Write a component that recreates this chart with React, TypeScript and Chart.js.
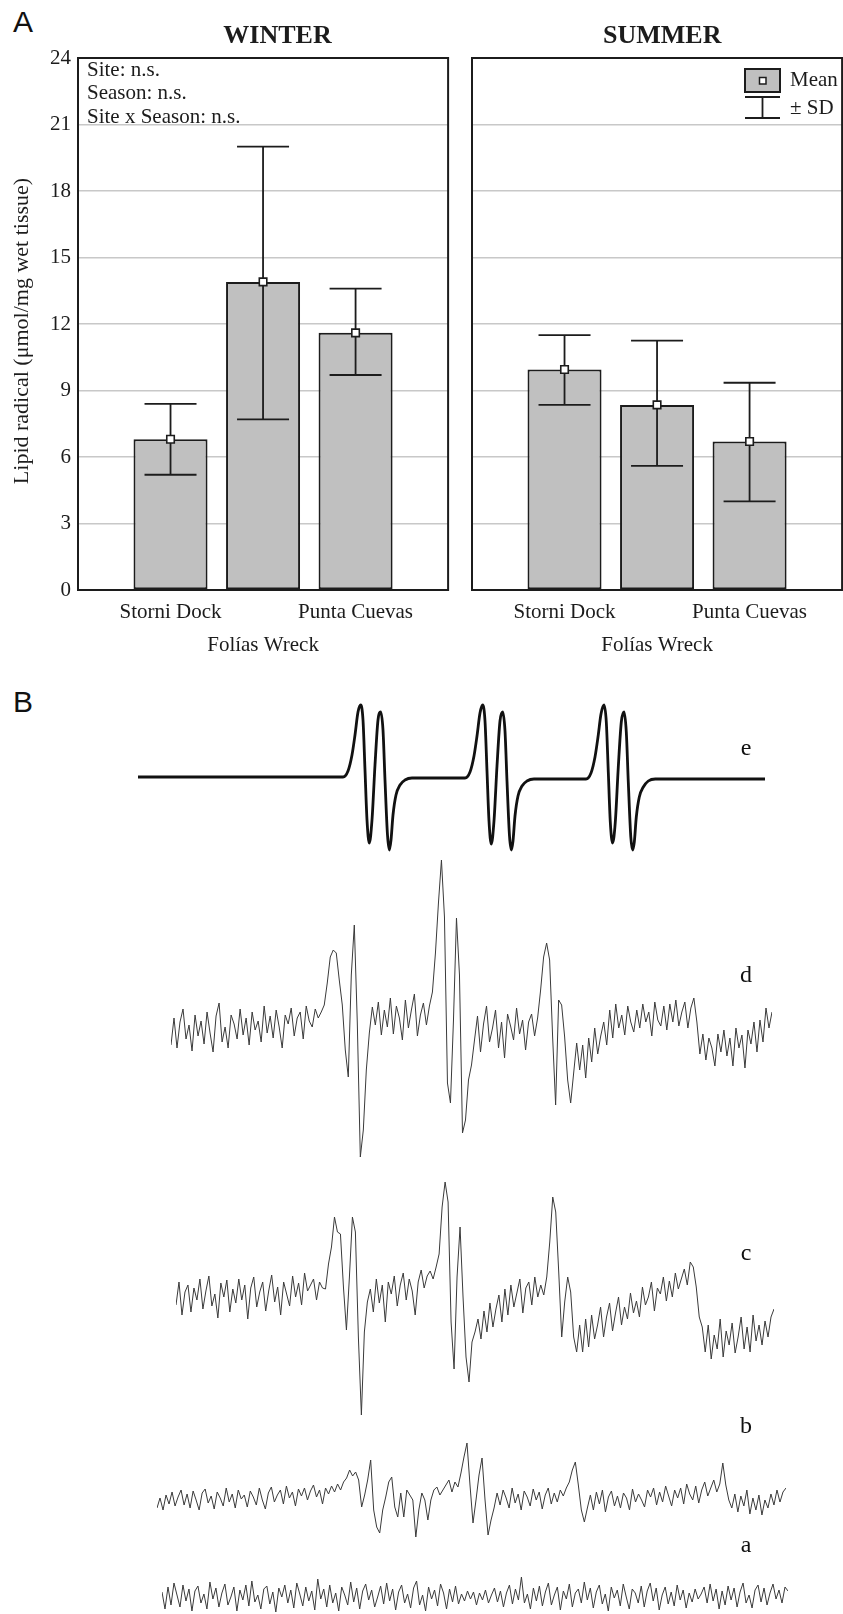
import React, { useEffect, useRef } from 'react';
import { Chart, registerables } from 'chart.js';

Chart.register(...registerables);

// ---------------- Panel A data ----------------
const sites = ['Storni Dock', 'Folías Wreck', 'Punta Cuevas'];
const winterMean = [6.8, 13.9, 11.6];
const winterSdHigh = [8.4, 20.0, 13.6];
const winterSdLow = [5.2, 7.7, 9.7];
const summerMean = [9.95, 8.35, 6.7];
const summerSdHigh = [11.5, 11.25, 9.35];
const summerSdLow = [8.35, 5.6, 4.0];
const yMin = 0;
const yMax = 24;
const yStep = 3;
const statsText = ['Site: n.s.', 'Season: n.s.', 'Site x Season: n.s.'];
const yTitle = 'Lipid radical (μmol/mg wet tissue)';
const legendMean = 'Mean';
const legendSd = '± SD';

// ---------------- Panel B data (EPR spectra, arbitrary amplitude units) ----------------
const eField = [0, 100, 205, 210, 214, 217, 220, 222.7, 225, 227, 229, 231.3, 234, 237, 240, 242.7, 245, 247, 249.5, 251.3, 253, 255, 258, 262, 267, 274, 300,
  327, 332, 336, 339, 342, 344.7, 347, 349, 351, 353.3, 356, 359, 362, 364.7, 367, 369, 371.5, 373.3, 375, 377, 380, 384, 389, 396, 420,
  448, 453, 457, 460, 463, 466, 468.3, 470.3, 472.3, 474.6, 477.3, 480.3, 483.3, 486, 488.3, 490.3, 492.8, 494.6, 496.3, 498.3, 501.3, 505.3, 510.3, 517.3, 560, 627];
const eSignal = [0, 0, 0, 6, 22, 42, 65, 72, 57, 7, -43, -66, -43, 12, 57, 65, 47, -3, -58, -73, -63, -38, -18, -8, -3, -1, -1,
  -1, 5, 21, 41, 64, 72, 56, 6, -44, -67, -44, 11, 56, 65, 46, -4, -59, -73, -64, -39, -19, -9, -4, -2, -2,
  -2, 4, 20, 40, 63, 72, 55, 5, -45, -66, -45, 10, 55, 65, 45, -5, -60, -73, -65, -40, -20, -10, -4, -2, -2, -2];

const dSignal = [
  -15, 12, -18, 8, 21, -9, 5, -21, 15, -6,
  9, -14, 18, -3, -22, 14, 27, -12, 3, -18,
  15, 6, -9, 21, -5, 12, -15, 18, 0, 9,
  -12, 24, -3, 14, -8, 20, 3, -18, 15, 6,
  22, -6, 12, 18, -9, 24, 9, 3, 21, 12,
  18, 25,
  47, 73, 80, 77, 50, 25, -20, -47, 55, 105, 7, -127, -100, -40, -3, 23,
  5, 28, -5, 20, 3, 32, -4, 24, 12, -10,
  30, 2, 20, 36, -6, 15, 27, 5, 24, 38,
  77, 127, 170, 113, -53, -73, 10, 112, 55, -103, -90, -50, -35, -10,
  14, -22, 6, 24, -12, 2, 20, -18, 8, -28,
  16, 4, -10, 22, -4, 10, -20, 8, 16, -6,
  12,
  40, 73, 87, 70, -7, -75, 30, 25, -7, -50, -73, -43, -13,
  -40, -15, -48, -8, -32, 2, -24, -6, 8, -15,
  20, -8, 26, 2, 15, -5, 24, 8, -2, 20,
  2, 26, 8, 18, -6, 28, 10, 4, 24, 0,
  26, 8, 30, 4, 18, 28, 2, 22, 32, 8,
  -24, -4, -30, -8, -18, -36, -4, -22, 0, -26,
  -8, -36, 2, -18, -5, -38, 0, -14, 8, -22,
  10, -12, 22, 2, 18,
];

const cSignal = [
  -8, 15, -18, 5, 12, -15, 9, -3, 18, -12,
  6, 21, -9, 3, -21, 14, 0, 17, -15, 8,
  -6, 18, -3, 12, -22, 9, 20, -10, 5, 15,
  -14, 6, 22, -5, 10, -18, 15, 3, -9, 21,
  0, 14, -8, 24, 6, 12, 18, -3, 15, 9,
  8,
  33, 50, 80, 65, 63, 10, -33, 20, 80, 65, -40, -118, -35, -5,
  8, -15, 18, -6, 12, -25, 15, 3, 21, -9,
  12, 24, -3, 18, 6, -18, 15, 27, 9, 21,
  26, 18,
  30, 43, 90, 115, 95, -25, -72, 20, 70, 0, -60, -85, -45, -35,
  -22, -42, -14, -35, -6, -30, -12, 2, -25, 8,
  -18, 12, -10, 4, 18, -16, 9, 15, -8, 20,
  0, 12, 2,
  20, 55, 100, 85, 25, -40, -5, 20, 5, -40, -55,
  -28, -55, -22, -50, -18, -42, -28, -10, -40, -20,
  -6, -34, -16, 0, -28, -10, -22, 4, -16, -4,
  -20, 10, -8, 0, 15, -14, 9, 3, 20, -4,
  16, 0, 24, 8, 18, 28, 12,
  35, 30, 10, -20,
  -30, -55, -28, -62, -38, -52, -22, -60, -34, -48,
  -26, -56, -40, -20, -52, -30, -55, -18, -44, -28,
  -48, -24, -40, -20, -12,
];

const bSignal = [
  -8, 2, -10, 5, -4, 8, -6, 3, 10, -5,
  6, -8, 9, 0, -10, 7, 11, -3, 4, -9,
  8, 2, -6, 12, -2, 6, -8, 10, 1, 5,
  -7, 9, 3, -5, 12, 0, -9, 7, 13, -2,
  5, 10, -4, 14, 2, 8, -6, 11, 4, 12,
  0, 9, 15, 3, 10, -4, 12, 6, 14, 8,
  16, 10, 18,
  22, 30, 24, 28, 20, -7, 5, 20, 40, -10,
  -27, -33, -10, 3, 18, 23, -7, -17, 7, -17,
  10, 5, 0, -37, -10, 7, 0, -20, 0, 10,
  13, 5, 10, 15, 20, 8, 18, 13, 27, 43,
  57, 15, -23, 0, 25, 42, 0, -35, -20, -8, 7,
  -5, 10, 2, -8, 12, -3, 6, -10, 9, 3,
  -6, 11, 0, 8, -9, 5, 12, -4, 7, -2,
  10, 4, 12, 18,
  30, 38, 15, -10, -22, -8,
  5, -10, 8, -4, 10, -12, 3, 9, -6, 4,
  -8, 7, 2, -10, 11, -2, 6, 0, -7, 10,
  3, 12, -5, 8, -2, 14, 4, -6, 10, 2,
  12, -4, 16, 6, 0, 14, -3, 10, 18, 4,
  12, 20, 8, 16,
  37, 15, 0,
  -8, 6, -12, 4, -6, 10, -14, 2, -10, 5,
  -15, 0, -8, 6, -5, 10, -2, 8, 12,
];

const aSignal = [
  5, -12, 10, -8, 14, 2, -10, 12, -4, 8,
  -14, 6, 11, -6, 3, -12, 15, -2, 9, -10,
  4, 13, -8, 0, 10, -14, 7, -3, 12, -9,
  16, -5, 2, -12, 8, 11, -7, 5, -15, 9,
  0, 12, -6, 7, -11, 14, 3, -9, 10, -4,
  6, -13, 18, -2, 8, -10, 12, -6, 4, -14,
  10, 2, -8, 15, -5, 9, -12, 6, 13, -3,
  7, -10, 0, 11, -7, 14, -4, 8, -13, 5,
  12, -6, 3, -11, 9, 16, -8, 2, -14, 10,
  -2, 7, -9, 13, 4, -12, 8, -5, 11, -7,
  3, -4, 6, -2, 5, -8, 4, -3, 7, -6,
  2, 9, -5, 6, -10, 4, 12, -7, 8, -3,
  20, -6, 3, -12, 9, -4, 11, -9, 5, 14,
  -8, 2, 10, -13, 6, -2, 13, -10, 4, 8,
  -6, 15, -3, 9, -11, 5, 12, -7, 3, -14,
  10, -1, 7, -9, 13, 0, -12, 8, 4, -6,
  11, -10, 6, 14, -4, 9, -13, 2, 10, -7,
  5, -9, 12, -3, 7, -11, 4, -5, 8, -2,
  3, 10, -6, 13, -4, 8, -12, 6, -8, 11,
  -3, 9, -10, 5, 14, -6, 2, -11, 7, 12,
  -5, 9, -8, 4, 13, -2, 7, -6, 10, 6,
];
const traceLabels = ['e', 'd', 'c', 'b', 'a'];

// ---------------- styling ----------------
const SERIF = '"Liberation Serif", "Times New Roman", serif';
const SANS = '"Liberation Sans", Arial, sans-serif';
const INK = '#1c1c1c';

const errorBarPlugin = {
  id: 'errorBars',
  afterDatasetDraw(chart: any, args: any, opts: any) {
    if (args.index !== 0) return;
    const { ctx, scales } = chart;
    const x = scales.x;
    const y = scales.y;
    ctx.save();
    ctx.strokeStyle = INK;
    ctx.lineWidth = 1.8;
    const high: number[] = opts.high;
    const low: number[] = opts.low;
    for (let k = 0; k < high.length; k++) {
      const px = x.getPixelForValue(k + 1);
      const yh = y.getPixelForValue(high[k]);
      const yl = y.getPixelForValue(low[k]);
      const cap = 26;
      ctx.beginPath();
      ctx.moveTo(px, yh);
      ctx.lineTo(px, yl);
      ctx.moveTo(px - cap, yh);
      ctx.lineTo(px + cap, yh);
      ctx.moveTo(px - cap, yl);
      ctx.lineTo(px + cap, yl);
      ctx.stroke();
    }
    ctx.restore();
  },
};

const panelPlugin = {
  id: 'panelDeco',
  afterDraw(chart: any, _args: any, o: any) {
    const { ctx, chartArea: a } = chart;
    ctx.save();
    ctx.strokeStyle = INK;
    ctx.lineWidth = 2;
    ctx.strokeRect(a.left, a.top, a.right - a.left, a.bottom - a.top);
    ctx.fillStyle = INK;
    ctx.textBaseline = 'middle';
    ctx.textAlign = 'center';
    ctx.font = `bold 26px ${SERIF}`;
    ctx.fillText(o.title, o.titleX, 36.7);
    if (o.yTitle) {
      ctx.save();
      ctx.font = `22px ${SERIF}`;
      ctx.translate(22, 331);
      ctx.rotate(-Math.PI / 2);
      ctx.fillText(o.yTitle, 0, 0);
      ctx.restore();
    }
    ctx.font = `21px ${SERIF}`;
    ctx.textAlign = 'left';
    if (o.stats) {
      const ys = [70, 93.7, 117.3];
      o.stats.forEach((s: string, i: number) => ctx.fillText(s, 87, ys[i]));
    }
    if (o.legend) {
      const lx = o.legendX;
      const ly = o.legendY;
      ctx.fillStyle = '#c0c0c0';
      ctx.fillRect(lx, ly, 35, 23);
      ctx.lineWidth = 2;
      ctx.strokeRect(lx, ly, 35, 23);
      ctx.fillStyle = '#ffffff';
      ctx.lineWidth = 1.5;
      ctx.fillRect(lx + 14.5, ly + 8.5, 6.5, 6.5);
      ctx.strokeRect(lx + 14.5, ly + 8.5, 6.5, 6.5);
      ctx.lineWidth = 1.8;
      ctx.beginPath();
      ctx.moveTo(lx, ly + 28);
      ctx.lineTo(lx + 35, ly + 28);
      ctx.moveTo(lx + 17.5, ly + 28);
      ctx.lineTo(lx + 17.5, ly + 49);
      ctx.moveTo(lx, ly + 49);
      ctx.lineTo(lx + 35, ly + 49);
      ctx.stroke();
      ctx.fillStyle = INK;
      ctx.fillText(legendMean, lx + 45, ly + 11.5);
      ctx.fillText(legendSd, lx + 45, ly + 39.5);
    }
    ctx.restore();
  },
};

function BarPanel(props: any) {
  const { left, title, titleX, means, high, low, showAxis, stats, legend } = props;
  const ref = useRef<HTMLCanvasElement>(null);
  useEffect(() => {
    const labels: any[] = ['', [sites[0]], ['', sites[1]], [sites[2]], ''];
    const vals = [null, ...means, null];
    const chart = new Chart(ref.current as HTMLCanvasElement, {
      type: 'bar',
      data: {
        labels,
        datasets: [
          {
            type: 'bar',
            data: vals,
            backgroundColor: '#c0c0c0',
            borderColor: INK,
            borderWidth: 2,
            borderSkipped: false,
            categoryPercentage: 1,
            barPercentage: 0.8,
            order: 2,
          },
          {
            type: 'line',
            data: vals,
            showLine: false,
            pointStyle: 'rect',
            pointRadius: 5.3,
            pointBackgroundColor: '#ffffff',
            pointBorderColor: INK,
            pointBorderWidth: 1.6,
            order: 1,
          },
        ],
      },
      options: {
        animation: false,
        responsive: false,
        events: [],
        layout: { padding: { top: 58, right: 4, left: 0, bottom: 0 } },
        plugins: {
          legend: { display: false },
          tooltip: { enabled: false },
          errorBars: { high, low },
          panelDeco: {
            title,
            titleX,
            stats,
            yTitle: showAxis ? yTitle : null,
            legend: !!legend,
            legendX: 351,
            legendY: 69,
          },
        },
        scales: {
          x: {
            type: 'category',
            offset: false,
            grid: { display: false, drawTicks: false },
            border: { display: false },
            ticks: {
              autoSkip: false,
              maxRotation: 0,
              minRotation: 0,
              padding: 5.5,
              color: INK,
              font: { family: SERIF, size: 21, lineHeight: 33 / 21 },
            },
            afterFit: (s: any) => { s.height = 80; },
          },
          y: {
            min: yMin,
            max: yMax,
            grid: {
              drawTicks: false,
              lineWidth: 1.6,
              color: (c: any) => (c.tick && (c.tick.value === yMin || c.tick.value === yMax) ? 'rgba(0,0,0,0)' : '#c8c8c8'),
            },
            border: { display: false },
            ticks: {
              display: showAxis,
              stepSize: yStep,
              padding: 7,
              color: INK,
              font: { family: SERIF, size: 21 },
            },
            afterFit: (s: any) => { s.width = 78; },
          },
        },
      },
      plugins: [errorBarPlugin, panelPlugin],
    } as any);
    return () => chart.destroy();
  }, []);
  return (
    <canvas
      ref={ref}
      width={455}
      height={670}
      style={{ position: 'absolute', left, top: 0, width: 455, height: 670 }}
    />
  );
}

function Trace(props: any) {
  const { xs, ys, left, top, width, min, max, lineWidth, color, smooth } = props;
  const ref = useRef<HTMLCanvasElement>(null);
  const height = max - min;
  useEffect(() => {
    const px: number[] = xs || ys.map((_: number, i: number) => i);
    const chart = new Chart(ref.current as HTMLCanvasElement, {
      type: 'line',
      data: {
        datasets: [
          {
            data: ys.map((y: number, i: number) => ({ x: px[i], y })),
            borderColor: color,
            borderWidth: lineWidth,
            pointRadius: 0,
            tension: 0,
            cubicInterpolationMode: smooth ? 'monotone' : 'default',
            borderJoinStyle: 'round',
            borderCapStyle: 'butt',
            fill: false,
          },
        ],
      },
      options: {
        animation: false,
        responsive: false,
        events: [],
        layout: { padding: 0 },
        plugins: { legend: { display: false }, tooltip: { enabled: false } },
        scales: {
          x: { type: 'linear', display: false, min: px[0], max: px[px.length - 1] },
          y: { type: 'linear', display: false, min, max },
        },
      },
    } as any);
    return () => chart.destroy();
  }, []);
  return (
    <canvas
      ref={ref}
      width={width}
      height={height}
      style={{ position: 'absolute', left, top, width, height }}
    />
  );
}

function Txt(props: any) {
  const { x, baseline, size, sans, center, bold, children } = props;
  const asc = sans ? 0.8465 : 0.8375;
  return (
    <div
      style={{
        position: 'absolute',
        left: x,
        top: baseline - asc * size,
        fontSize: size,
        lineHeight: `${size}px`,
        fontFamily: sans ? SANS : SERIF,
        fontWeight: bold ? 'bold' : 'normal',
        color: '#111',
        whiteSpace: 'nowrap',
        transform: center ? 'translateX(-50%)' : undefined,
      }}
    >
      {children}
    </div>
  );
}

export default function App() {
  const letterPos = [755, 982, 1260, 1433, 1552];
  return (
    <div
      style={{
        position: 'absolute',
        left: 0,
        top: 0,
        width: 843,
        height: 1614,
        overflow: 'hidden',
        background: '#ffffff',
      }}
    >
      <Txt x={13} baseline={32} size={30} sans>A</Txt>
      <BarPanel
        left={0}
        title="WINTER"
        titleX={277.5}
        means={winterMean}
        high={winterSdHigh}
        low={winterSdLow}
        showAxis
        stats={statsText}
      />
      <BarPanel
        left={394}
        title="SUMMER"
        titleX={268.2}
        means={summerMean}
        high={summerSdHigh}
        low={summerSdLow}
        showAxis={false}
        stats={null}
        legend
      />
      <Txt x={13} baseline={712} size={30} sans>B</Txt>
      <Trace xs={eField} ys={eSignal} left={138} top={697} width={627} min={-90} max={80} lineWidth={2.8} color="#111" smooth />
      <Trace ys={dSignal} left={171} top={845} width={601} min={-140} max={185} lineWidth={1} color="#3a3a3a" />
      <Trace ys={cSignal} left={176} top={1172} width={598} min={-125} max={125} lineWidth={1} color="#3a3a3a" />
      <Trace ys={bSignal} left={157} top={1435} width={629} min={-45} max={65} lineWidth={1} color="#3a3a3a" />
      <Trace ys={aSignal} left={162} top={1572} width={626} min={-17} max={25} lineWidth={1} color="#3a3a3a" />
      {traceLabels.map((t, i) => (
        <Txt key={t} x={746} baseline={letterPos[i]} size={24} center>{t}</Txt>
      ))}
    </div>
  );
}
